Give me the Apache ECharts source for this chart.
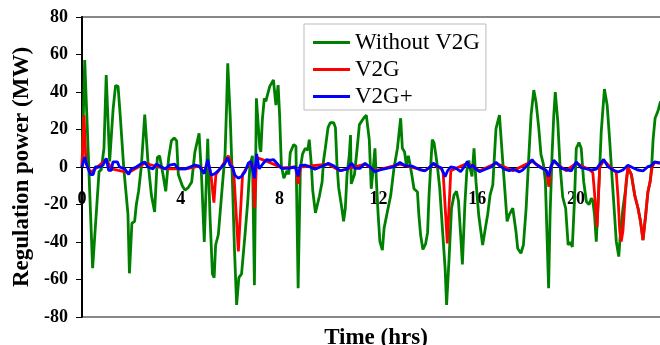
<!DOCTYPE html>
<html>
<head>
<meta charset="utf-8">
<script src="https://cdn.jsdelivr.net/npm/echarts@6/dist/echarts.min.js"></script>
<style>
html, body { margin: 0; padding: 0; background: #fff; }
#chart { width: 660px; height: 345px; }
</style>
</head>
<body>
<div id="chart"></div>
<script>
// hours, MW
var seriesNames = ['Without V2G', 'V2G', 'V2G+'];

var withoutV2G = [
  [0,0],[0.11,57],[0.43,-54],[0.69,-2.5],[0.78,-1.4],[0.89,10],[0.98,49],[1.12,3],[1.26,31],[1.36,43.5],
  [1.46,43],[1.55,27],[1.69,-0.5],[1.86,-25],[1.92,-56.7],[2.02,-30],[2.13,-29],[2.2,-20],[2.29,-13],[2.4,0],
  [2.54,28],[2.67,3],[2.81,-15],[2.94,-24],[3.05,5],[3.14,6],[3.28,-4],[3.39,-13],[3.51,5],[3.62,14],
  [3.73,15.5],[3.83,14],[3.9,-4],[4.06,-10],[4.17,-12.4],[4.3,-11],[4.44,-8],[4.57,8],[4.74,18],[4.84,-5],
  [4.95,-40],[5.09,15],[5.18,-25.6],[5.28,-57],[5.35,-59],[5.41,-41.6],[5.52,-36],[5.65,-15],[5.79,6.7],[5.85,31],
  [5.9,55.3],[6.0,27],[6.09,-7.8],[6.17,-43],[6.26,-73.6],[6.35,-59],[6.46,-57],[6.6,-36],[6.71,-18.5],[6.8,1],
  [6.9,6],[6.98,-63],[7.06,36.6],[7.14,36],[7.2,10],[7.24,8],[7.3,25],[7.38,36.6],[7.44,35],[7.52,39],
  [7.6,43],[7.68,44],[7.75,46.4],[7.8,46],[7.85,33],[7.94,43.7],[8.0,27.7],[8.07,1],[8.17,-6],[8.24,-5],
  [8.3,-2],[8.37,-4],[8.43,7.6],[8.57,12],[8.66,11],[8.75,-64.7],[8.84,-0.6],[8.93,7],[9.04,10],[9.14,9],
  [9.2,14.6],[9.28,2],[9.34,-12.4],[9.45,-24.5],[9.51,-25.4],[9.61,-15.6],[9.72,-8],[9.78,3.5],[9.85,10],[9.96,21],
  [10.05,23.6],[10.19,23.6],[10.26,21],[10.32,2],[10.39,-11],[10.52,-22],[10.59,-29],[10.66,-22],[10.73,-4],[10.82,6],
  [10.87,17],[10.9,-9],[10.96,-9],[11.03,-4],[11.14,10],[11.23,22.6],[11.4,26],[11.51,27.7],[11.63,14.6],[11.71,-11.6],
  [11.78,-2],[11.86,10],[11.92,-7.8],[11.99,-25.6],[12.06,-39.8],[12.16,-44.3],[12.23,-32.6],[12.36,-24],[12.5,-15],[12.63,-0.6],
  [12.77,10],[12.9,26],[12.97,10],[13.06,8],[13.13,1],[13.21,6],[13.27,2],[13.35,-4],[13.44,-11.6],[13.58,-13.3],
  [13.64,-26],[13.71,-36.4],[13.8,-44],[13.91,-41],[13.99,-35],[14.05,-15],[14.13,3.5],[14.18,14.6],[14.25,13],[14.32,7],
  [14.39,0],[14.48,-11],[14.59,-32.6],[14.7,-54],[14.76,-73.6],[14.86,-49],[14.96,-22],[15.06,-15],[15.16,-13],[15.24,-18],
  [15.33,-36.4],[15.4,-52],[15.5,-20],[15.58,-2],[15.66,3.5],[15.71,-0.5],[15.79,-5],[15.87,10],[15.95,-7.8],[16.06,-25.6],
  [16.22,-41.6],[16.33,-32.6],[16.42,-25.6],[16.52,-15],[16.63,-9.6],[16.76,20.5],[16.9,27.7],[17.03,3.5],[17.14,-16.3],[17.21,-29],
  [17.3,-25.4],[17.44,-22],[17.57,-34.5],[17.64,-43.5],[17.77,-46],[17.87,-41.6],[17.98,-22],[18.08,3.5],[18.18,27.7],[18.29,41],
  [18.38,34.7],[18.49,21],[18.58,6.7],[18.68,1.4],[18.76,-7.8],[18.89,-64.7],[18.95,-25.6],[19.03,6.7],[19.1,27.7],[19.16,40],
  [19.26,24.5],[19.35,1.4],[19.46,-16],[19.58,-22],[19.68,-41.6],[19.76,-40],[19.85,-42.6],[19.94,-16.7],[20.01,10],[20.12,13],
  [20.21,10],[20.31,-7.8],[20.42,-18.5],[20.53,-20],[20.62,-16.7],[20.68,-18],[20.75,-25.6],[20.82,-39.8],[20.96,0],[21.02,18.7],
  [21.15,41.6],[21.26,33],[21.36,14.6],[21.47,-7.8],[21.56,-25.6],[21.63,-39.8],[21.73,-47.8],[21.8,-35],[21.9,-22],[22.01,-11.6],
  [22.1,-0.6],[22.24,-4],[22.38,-15.3],[22.51,-22],[22.61,-29],[22.71,-39],[22.82,-25.6],[22.91,-13.3],[23.0,-7.8],[23.06,0],
  [23.12,14.6],[23.2,26],[23.32,30],[23.42,35]
];

var withV2G = [
  [0,0],[0.08,27.7],[0.16,2],[0.35,-3],[0.98,4],[1.2,-1],[1.89,-3],[2.54,2],[3.4,-1],[4.2,-1],
  [4.74,0.5],[4.95,-3],[5.09,3],[5.22,-4],[5.34,-19],[5.42,-4],[5.65,0],[5.92,6],[6.09,0],[6.15,-4],
  [6.33,-45],[6.5,-4],[6.73,1],[6.92,1],[6.99,-22],[7.07,5],[7.5,3],[8.1,-0.5],[8.65,0],[8.75,-9],
  [8.84,0],[9.97,1.5],[10.45,-2],[11.46,1.5],[11.86,-2],[12.87,1.5],[13.89,-2],[14.22,1.5],[14.55,-1],[14.62,-3],
  [14.79,-40.7],[14.93,-2],[15.6,2],[16.09,-2],[16.76,2],[17.45,-2],[18.22,3],[18.8,-2],[18.9,-10.5],[18.97,0],
  [19.1,3],[19.6,-2],[20.01,2],[20.55,-1.5],[20.68,-3],[20.75,-14],[20.85,-32],[20.9,-18],[20.96,0],[21.12,3.5],
  [21.5,-1.5],[21.63,-3],[21.7,-16],[21.77,-34],[21.83,-39.8],[21.9,-34],[21.96,-22],[22.03,-8],[22.1,0],[22.24,-4],
  [22.38,-15.3],[22.51,-22],[22.61,-29],[22.71,-39],[22.82,-25.6],[22.91,-13.3],[23.0,-7.8],[23.08,0],[23.18,2.5],[23.4,2]
];

var withV2GPlus = [
  [0,0],[0.11,5.3],[0.22,0],[0.35,-4],[0.45,-4],[0.54,0],[0.72,0],[0.85,1],[0.98,4.6],[1.08,-1.8],
  [1.19,-1.8],[1.25,2.7],[1.43,2.7],[1.52,0],[1.73,-1],[1.89,-4],[1.98,-1.2],[2.2,0],[2.4,1.8],[2.54,2.7],
  [2.67,0],[2.87,-1],[3.01,1.6],[3.21,0],[3.37,-1],[3.55,1],[3.75,1.5],[3.9,-1],[4.17,-1],[4.37,0],
  [4.57,1],[4.74,0.5],[4.95,-3.6],[5.09,4],[5.23,-4.4],[5.39,-3.5],[5.52,-1.8],[5.65,0],[5.79,2],[5.9,5],
  [5.99,1],[6.09,0],[6.19,-4.4],[6.33,-6],[6.46,-5],[6.6,-2.5],[6.73,2],[6.84,3],[6.98,-6],[7.07,7],
  [7.17,-1],[7.34,2],[7.48,4],[7.61,3.5],[7.75,4],[7.95,1.1],[8.08,-0.7],[8.35,-0.7],[8.64,0],[8.75,-5],
  [8.84,0.9],[9.03,1],[9.23,0],[9.43,-1.2],[9.64,0],[9.84,1],[9.97,2],[10.18,0.7],[10.45,-2],[10.72,-1.2],
  [10.92,2],[11.05,-0.7],[11.26,-0.7],[11.46,2],[11.66,0],[11.86,-2.5],[12.06,-1.6],[12.33,-0.7],[12.6,0],[12.87,2.4],
  [13.08,0.7],[13.35,0.5],[13.69,-1.5],[13.89,-2],[14.09,0],[14.22,2],[14.36,0.7],[14.55,-0.5],[14.7,-5.2],[14.8,-2],
  [14.92,0],[15.12,-0.5],[15.33,-2.5],[15.47,0],[15.6,3],[15.68,-0.4],[15.82,1],[15.95,-1.1],[16.09,-2.5],[16.36,-1.1],
  [16.56,0],[16.76,2.6],[16.9,0.7],[17.1,-1.1],[17.3,-2],[17.44,-1.1],[17.71,-2.6],[17.84,-1.6],[18.04,1],[18.22,3.9],
  [18.38,1.4],[18.58,-0.4],[18.78,-1.6],[18.89,-5],[18.99,0.2],[19.1,3.6],[19.22,1.9],[19.4,-0.7],[19.53,-1.1],[19.61,-2.1],
  [19.81,-2.1],[20.01,2.7],[20.21,-0.4],[20.48,-1.1],[20.62,-1.6],[20.82,-1.1],[20.96,1.4],[21.12,4],[21.29,0.2],[21.5,-1.6],
  [21.7,-2.7],[21.9,-1.6],[22.1,1],[22.3,-0.4],[22.5,-1.6],[22.71,-2.1],[22.91,0.2],[23.05,0.7],[23.18,2.7],[23.39,2.2]
];

var lineColors = ['#008000', '#ff0000', '#0000ff'];
var serif = "'Liberation Serif', 'Times New Roman', serif";

var myChart = echarts.init(document.getElementById('chart'));

var option = {
    animation: false,
    backgroundColor: '#fff',
    grid: {
        left: 82,
        right: -1,
        top: 17,
        bottom: 28,
        outerBoundsMode: 'none',
        containLabel: false,
        show: true,
        borderColor: '#888',
        borderWidth: 2
    },
    legend: {
        data: seriesNames,
        orient: 'vertical',
        left: 304,
        top: 24,
        padding: [7, 6, 2, 9],
        itemGap: 4,
        itemWidth: 37,
        itemHeight: 3,
        icon: 'rect',
        borderColor: '#bbb',
        borderWidth: 1,
        backgroundColor: '#fff',
        textStyle: {
            fontFamily: serif,
            fontSize: 23,
            color: '#000'
        }
    },
    xAxis: {
        type: 'value',
        min: 0,
        max: 23.44,
        interval: 4,
        name: 'Time (hrs)',
        nameLocation: 'middle',
        nameGap: 10,
        nameTextStyle: {
            fontFamily: serif,
            fontSize: 23,
            fontWeight: 'bold',
            color: '#000',
            padding: [0, 0, 0, 9]
        },
        axisLine: { onZero: true, lineStyle: { color: '#000', width: 1 } },
        axisTick: { show: false },
        splitLine: { show: false },
        axisLabel: {
            // labels hang just under the zero line
            margin: -127,
            showMaxLabel: false,
            fontFamily: serif,
            fontSize: 18,
            fontWeight: 'bold',
            color: '#000'
        }
    },
    yAxis: {
        type: 'value',
        min: -80,
        max: 80,
        interval: 20,
        name: 'Regulation power (MW)',
        nameLocation: 'middle',
        nameGap: 43,
        nameTextStyle: {
            fontFamily: serif,
            fontSize: 23,
            fontWeight: 'bold',
            color: '#000'
        },
        axisLine: { show: true, lineStyle: { color: '#000', width: 2 } },
        axisTick: { show: true, inside: false, length: 6, lineStyle: { color: '#000', width: 1 } },
        splitLine: { show: false },
        axisLabel: {
            margin: 14,
            fontFamily: serif,
            fontSize: 18,
            fontWeight: 'bold',
            color: '#000'
        }
    },
    series: [
        {
            name: seriesNames[0],
            type: 'line',
            data: withoutV2G,
            showSymbol: false,
            color: lineColors[0],
            lineStyle: { width: 2.8, color: lineColors[0] }
        },
        {
            name: seriesNames[1],
            type: 'line',
            data: withV2G,
            showSymbol: false,
            color: lineColors[1],
            lineStyle: { width: 2.8, color: lineColors[1] }
        },
        {
            name: seriesNames[2],
            type: 'line',
            data: withV2GPlus,
            showSymbol: false,
            color: lineColors[2],
            lineStyle: { width: 2.8, color: lineColors[2] }
        }
    ]
};

myChart.setOption(option);
</script>
</body>
</html>
